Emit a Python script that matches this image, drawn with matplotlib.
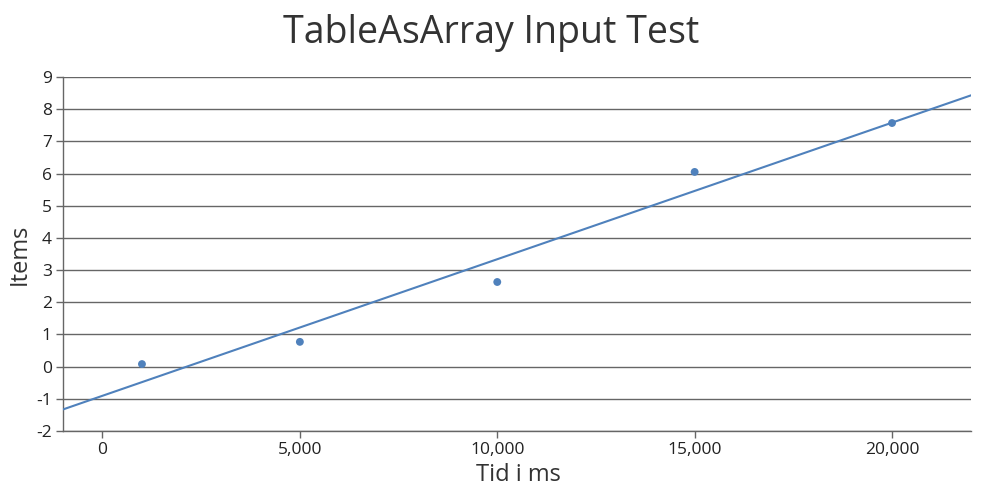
import matplotlib.pyplot as plt
import matplotlib.ticker as ticker

# Dados
tempo_ms = [1000, 5000, 10000, 15000, 20000]
itens = [0.08, 0.77, 2.63, 6.05, 7.57]

# Linha de tendência (extremos)
tendencia_x = [-1000, 22000]
tendencia_y = [-1.33, 8.43]

x_ticks = [0, 5000, 10000, 15000, 20000]
y_ticks = list(range(-2, 10))

cor = '#4F81BC'
cor_grade = '#666666'

plt.rcParams['font.family'] = ['Open Sans', 'DejaVu Sans']
plt.rcParams['axes.unicode_minus'] = False

fig = plt.figure(figsize=(9.82, 5.0), dpi=100)
ax = fig.add_axes([63 / 982, 69 / 500, (971 - 63) / 982, (431 - 77) / 500])

ax.plot(tendencia_x, tendencia_y, color=cor, linewidth=1.5, zorder=3)
ax.scatter(tempo_ms, itens, color=cor, s=32, zorder=4, edgecolors='none')

ax.set_xlim(-1000, 22000)
ax.set_ylim(-2, 9)
ax.set_xticks(x_ticks)
ax.set_yticks(y_ticks)
ax.xaxis.set_major_formatter(ticker.FuncFormatter(lambda v, p: f'{int(v):,}'))

ax.grid(True, axis='y', color=cor_grade, linewidth=1)
ax.set_axisbelow(True)
for lado in ['top', 'right']:
    ax.spines[lado].set_visible(False)
for lado in ['left', 'bottom']:
    ax.spines[lado].set_color(cor_grade)
    ax.spines[lado].set_linewidth(1)

ax.tick_params(axis='both', colors=cor_grade, labelcolor='#222222', labelsize=12.5, length=5, width=1)
ax.tick_params(axis='x', pad=3)
ax.tick_params(axis='y', pad=3)

ax.set_xlabel('Tid i ms', fontsize=17, color='#333333')
ax.set_ylabel('Items', fontsize=17, color='#333333')
ax.xaxis.set_label_coords((518 - 63) / 908, -(463 - 431) / 354)
ax.yaxis.set_label_coords(-(63 - 32) / 908, 0.5)
fig.text(0.5, 1 - 33 / 500, 'TableAsArray Input Test', fontsize=27, color='#333333',
         ha='center', va='center')

fig.savefig('out.png', dpi=100)
